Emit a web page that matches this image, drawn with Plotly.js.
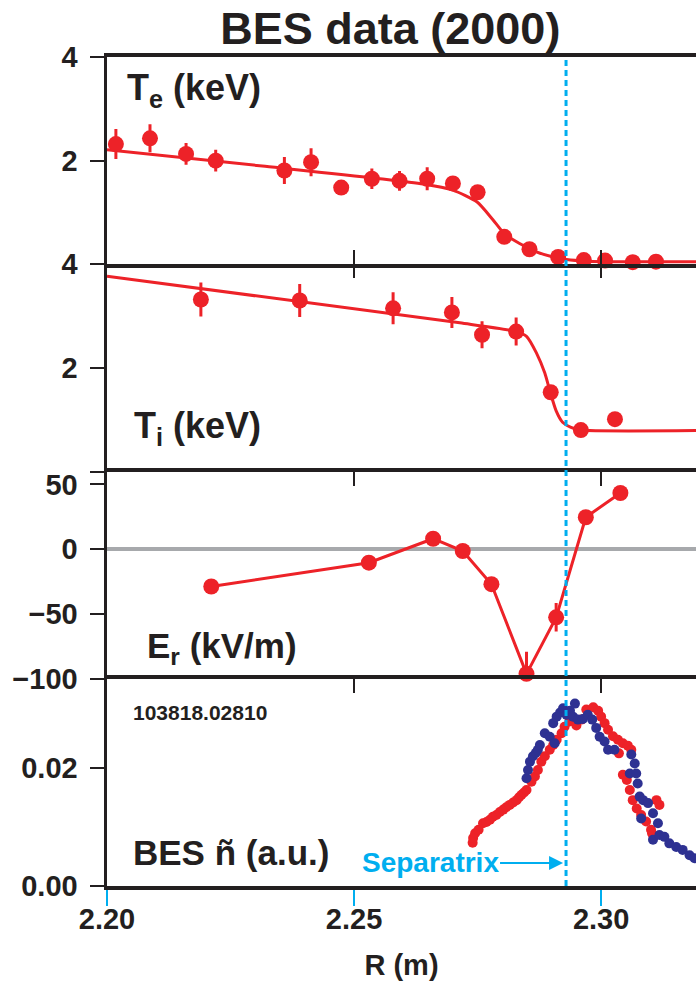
<!DOCTYPE html>
<html>
<head>
<meta charset="utf-8">
<script src="https://cdn.plot.ly/plotly-3.0.1.min.js"></script>
<style>
  html, body { margin: 0; padding: 0; background: #ffffff; }
  #chart { width: 696px; height: 987px; }
</style>
</head>
<body>
<div id="chart"></div>
<script>
// ---- Electron temperature: measured points, error bars and fitted profile ----
const teR   = [2.2018, 2.2087, 2.2160, 2.2220, 2.2359, 2.2413, 2.2474, 2.2536, 2.2592, 2.2648,
               2.2700, 2.2750, 2.2804, 2.2855, 2.2913, 2.2965, 2.3008, 2.3064, 2.3111];
const teVal = [2.32, 2.43, 2.13, 2.00, 1.81, 1.97, 1.48, 1.65, 1.61, 1.65,
               1.56, 1.39, 0.53, 0.29, 0.14, 0.08, 0.07, 0.04, 0.05];
const teErr = [0.29, 0.27, 0.21, 0.21, 0.26, 0.27, 0, 0.20, 0.19, 0.22,
               0, 0, 0, 0, 0, 0, 0, 0, 0];
const teFitR   = [2.200, 2.232, 2.2640, 2.2700, 2.2749, 2.2781, 2.2804, 2.2835, 2.2869, 2.2903, 2.2930, 2.2970, 2.3050, 2.3192];
const teFitVal = [2.21, 1.89, 1.55, 1.43, 1.20, 0.86, 0.59, 0.40, 0.24, 0.14, 0.09, 0.06, 0.05, 0.05];

// ---- Ion temperature ----
const tiR   = [2.1998, 2.2190, 2.2390, 2.2579, 2.2698, 2.2759, 2.2828, 2.2898, 2.2959, 2.3028];
const tiVal = [3.90, 3.32, 3.30, 3.15, 3.07, 2.64, 2.70, 1.53, 0.80, 1.01];
const tiErr = [0, 0.33, 0.32, 0.31, 0.30, 0.26, 0.27, 0, 0, 0];
const tiFitR   = [2.200, 2.2714, 2.2829, 2.2849, 2.2869, 2.2886, 2.2897, 2.2909, 2.2922, 2.2939, 2.2958, 2.3192];
const tiFitVal = [3.77, 2.87, 2.70, 2.61, 2.29, 1.90, 1.53, 1.17, 0.95, 0.85, 0.80, 0.79];

// ---- Radial electric field (kV/m) ----
const erR   = [2.2211, 2.2530, 2.2660, 2.2720, 2.2778, 2.2849, 2.2909, 2.2969, 2.3039];
const erVal = [-28.8, -10.4, 8.1, -1.4, -27.0, -96.2, -52.6, 24.7, 43.4];
const erErr = [0, 0, 0, 0, 0, 17, 11, 0, 0];

// ---- BES density fluctuation amplitude, two channels ----
const besRedR = [2.2740, 2.2741, 2.2745, 2.2752, 2.2761, 2.2768, 2.2775, 2.2781, 2.2788, 2.2795,
                 2.2802, 2.2808, 2.2815, 2.2822, 2.2829, 2.2834, 2.2839, 2.2844, 2.2849, 2.2859,
                 2.2866, 2.2872, 2.2879, 2.2886, 2.2896, 2.2903, 2.2910, 2.2920, 2.2926, 2.2936,
                 2.2950, 2.2960, 2.2970, 2.2984, 2.2994, 2.3000, 2.3007, 2.3014, 2.3024, 2.3034,
                 2.3036, 2.3044, 2.3054, 2.3061, 2.3044, 2.3052, 2.3058, 2.3064, 2.3072, 2.3081,
                 2.3091, 2.3101, 2.3106, 2.3112, 2.3118, 2.3103];
const besRedN = [0.0073, 0.0081, 0.0089, 0.0095, 0.0106, 0.0108, 0.0112, 0.0117, 0.0120, 0.0125,
                 0.0129, 0.0133, 0.0137, 0.0141, 0.0145, 0.0150, 0.0154, 0.0158, 0.0162, 0.0176,
                 0.0185, 0.0196, 0.0210, 0.0219, 0.0230, 0.0238, 0.0247, 0.0258, 0.0269, 0.0278,
                 0.0271, 0.0281, 0.0298, 0.0302, 0.0296, 0.0286, 0.0275, 0.0264, 0.0253, 0.0247,
                 0.0224, 0.0241, 0.0237, 0.0230, 0.0188, 0.0179, 0.0162, 0.0145, 0.0131, 0.0120,
                 0.0109, 0.0095, 0.0083, 0.0145, 0.0137, 0.0089];
const besBlueR = [2.2849, 2.2852, 2.2856, 2.2862, 2.2868, 2.2872, 2.2876, 2.2886, 2.2896, 2.2906,
                  2.2903, 2.2910, 2.2917, 2.2923, 2.2930, 2.2937, 2.2947, 2.2943, 2.2953, 2.2963,
                  2.2973, 2.2982, 2.2990, 2.2997, 2.3007, 2.3014, 2.3027, 2.3061, 2.3068, 2.3058,
                  2.3071, 2.3074, 2.3078, 2.3085, 2.3095, 2.3081, 2.3105, 2.3115, 2.3105, 2.3118,
                  2.3128, 2.3138, 2.3152, 2.3165, 2.3179, 2.3189];
const besBlueN = [0.0182, 0.0196, 0.0210, 0.0219, 0.0225, 0.0230, 0.0238, 0.0258, 0.0252, 0.0241,
                  0.0275, 0.0286, 0.0293, 0.0300, 0.0289, 0.0296, 0.0308, 0.0286, 0.0281, 0.0282,
                  0.0289, 0.0281, 0.0267, 0.0252, 0.0244, 0.0230, 0.0230, 0.0222, 0.0207, 0.0190,
                  0.0190, 0.0173, 0.0151, 0.0145, 0.0140, 0.0114, 0.0123, 0.0106, 0.0078, 0.0086,
                  0.0083, 0.0072, 0.0066, 0.0061, 0.0052, 0.0047];

// Separatrix position (m)
const separatrixR = 2.2929;

// Axis ticks
const rTicks = [2.20, 2.25, 2.30];
const rTickText = ['2.20', '2.25', '2.30'];
const teTicks = [2, 4];
const tiTicks = [0, 2, 4];
const tiTickText = ['', '2', '4'];
const erTicks = [-100, -50, 0, 50];
const besTicks = [0, 0.02];
const besTickText = ['0.00', '0.02'];

// ---- styling ----
const FONT = 'Liberation Sans, Arial, Helvetica, sans-serif';
const INK = '#231f20';
const RED = '#ed2228';
const BLUE = '#2e3192';
const CYAN = '#00aeef';
const GREY = '#a7a9ac';
const R_RANGE = [2.20, 2.3192];

function pointsTrace(x, y, err, xa, ya, mode) {
  return {
    type: 'scatter', x: x, y: y, xaxis: xa, yaxis: ya, mode: mode || 'markers',
    cliponaxis: false, hoverinfo: 'skip',
    marker: { color: RED, size: 16 },
    line: { color: RED, width: 3 },
    error_y: { type: 'data', array: err, visible: true, thickness: 3, width: 0, color: RED }
  };
}
function fitTrace(x, y, xa, ya) {
  return {
    type: 'scatter', x: x, y: y, xaxis: xa, yaxis: ya, mode: 'lines',
    cliponaxis: false, hoverinfo: 'skip',
    line: { color: RED, width: 3, shape: 'spline', smoothing: 0.6 }
  };
}
function besTrace(x, y, color) {
  return {
    type: 'scatter', x: x, y: y, xaxis: 'x4', yaxis: 'y4', mode: 'markers',
    cliponaxis: false, hoverinfo: 'skip',
    marker: { color: color, size: 10 }
  };
}

const data = [
  fitTrace(teFitR, teFitVal, 'x', 'y'),
  pointsTrace(teR, teVal, teErr, 'x', 'y'),
  fitTrace(tiFitR, tiFitVal, 'x2', 'y2'),
  pointsTrace(tiR, tiVal, tiErr, 'x2', 'y2'),
  pointsTrace(erR, erVal, erErr, 'x3', 'y3', 'lines+markers'),
  besTrace(besRedR, besRedN, RED),
  besTrace(besBlueR, besBlueN, BLUE),
  { type: 'scatter', x: [], y: [], xaxis: 'x5', yaxis: 'y4', hoverinfo: 'skip' }
];

const tickFont = { family: FONT, size: 29, color: INK, weight: 700 };

// Each panel boundary gets exactly one horizontal rule:
//   x  -> top frame + Te/Ti boundary, x3 -> Ti/Er boundary, x4 -> Er/BES boundary + bottom.
function xAxis(anchor, side, ticks, extra) {
  return Object.assign({
    anchor: anchor, side: side, range: R_RANGE, fixedrange: true,
    showgrid: false, zeroline: false,
    showline: true, linecolor: INK, linewidth: 4, mirror: false,
    ticks: ticks, tickvals: rTicks, ticktext: rTickText, ticklen: 14, tickwidth: 2, tickcolor: INK,
    showticklabels: false
  }, extra || {});
}
function yAxis(anchor, domain, range, tickvals, ticktext, extra) {
  const ax = {
    anchor: anchor, domain: domain, range: range, fixedrange: true,
    showgrid: false, zeroline: false,
    showline: true, linecolor: INK, linewidth: 3.5,
    ticks: 'outside', ticklen: 14, tickwidth: 2, tickcolor: INK,
    tickvals: tickvals, tickfont: tickFont, ticklabelstandoff: 6
  };
  if (ticktext) ax.ticktext = ticktext;
  return Object.assign(ax, extra || {});
}

function label(text, x, y, size, color) {
  return {
    xref: 'paper', yref: 'paper', x: x, y: y, xanchor: 'left', yanchor: 'middle',
    text: text, showarrow: false,
    font: { family: FONT, size: size, color: color || INK, weight: 700 }
  };
}

const layout = {
  width: 696, height: 987,
  margin: { l: 106.5, r: 0, t: 57, b: 101, pad: 0 },
  paper_bgcolor: '#ffffff', plot_bgcolor: 'rgba(0,0,0,0)',
  showlegend: false,
  font: { family: FONT, color: INK, weight: 700 },
  title: {
    text: 'BES data (2000)',
    font: { family: FONT, size: 45, color: INK, weight: 700 },
    xref: 'paper', x: 0.481, xanchor: 'center',
    yref: 'container', y: 0.971, yanchor: 'middle'
  },
  xaxis:  xAxis('y',  'bottom', 'inside', { mirror: true }),
  xaxis2: xAxis('y2', 'top',    'inside', { showline: false }),
  xaxis3: xAxis('y3', 'top',    'inside'),
  xaxis4: xAxis('y4', 'bottom', 'outside', {
    mirror: true,
    tickcolor: CYAN, ticklen: 16, tickwidth: 2, showticklabels: true,
    tickfont: tickFont, ticklabelstandoff: -12,
    title: { text: 'R (m)', font: { family: FONT, size: 29, color: INK, weight: 700 }, standoff: 22 }
  }),
  xaxis5: xAxis('y4', 'top', 'inside', { overlaying: 'x4', showline: false }),
  yaxis:  yAxis('x',  [0.75, 1.0],  [0, 4], teTicks),
  yaxis2: yAxis('x2', [0.5, 0.75],  [0, 4], tiTicks, tiTickText),
  yaxis3: yAxis('x3', [0.25, 0.5],  [-100, 60], erTicks, null,
                { zeroline: true, zerolinecolor: GREY, zerolinewidth: 4 }),
  yaxis4: yAxis('x4', [0.0, 0.25],  [0, 0.035], besTicks, besTickText),
  shapes: [{
    type: 'line', xref: 'x', yref: 'paper', layer: 'above',
    x0: separatrixR, x1: separatrixR, y0: 0, y1: 1,
    line: { color: CYAN, width: 3, dash: '6px,4px' }
  }],
  annotations: [
    label('T<sub>e</sub> (keV)', 0.031, 0.960, 36),
    label('T<sub>i</sub> (keV)', 0.043, 0.553, 36),
    label('E<sub>r</sub> (kV/m)', 0.065, 0.287, 35),
    label('103818.02810', 0.041, 0.2098, 21),
    label('BES ñ (a.u.)', 0.041, 0.040, 35),
    {
      xref: 'x4', yref: 'y4', x: separatrixR, y: 0.0039,
      ax: -136, ay: 0, axref: 'pixel', ayref: 'pixel',
      text: 'Separatrix', showarrow: true,
      arrowhead: 2, arrowsize: 1.4, arrowwidth: 2, arrowcolor: CYAN, standoff: 3,
      font: { family: FONT, size: 28, color: CYAN, weight: 700 }
    }
  ]
};

Plotly.newPlot('chart', data, layout, { displayModeBar: false, staticPlot: true });
</script>
</body>
</html>
